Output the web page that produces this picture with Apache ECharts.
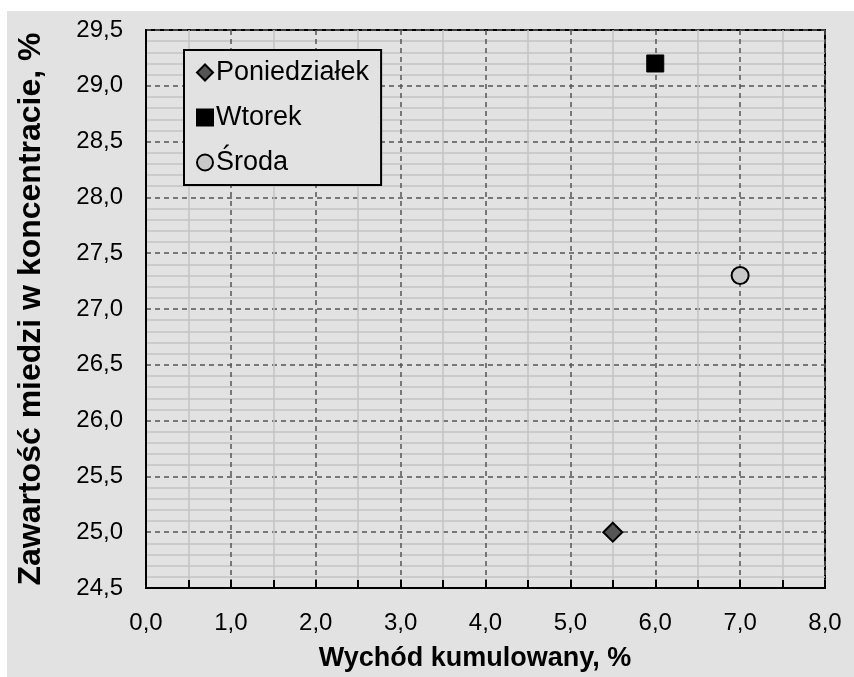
<!DOCTYPE html>
<html>
<head>
<meta charset="utf-8">
<script src="https://cdn.jsdelivr.net/npm/echarts@6/dist/echarts.min.js"></script>
<style>
  html, body { margin: 0; padding: 0; background: #ffffff; }
  #chart { position: absolute; left: 7px; top: 11px; width: 847px; height: 666px; }
</style>
</head>
<body>
<div id="chart"></div>
<script>
// Data
const seriesNames = ['Poniedziałek', 'Wtorek', 'Środa'];
const xValues = [5.5, 6.0, 7.0];     // Wychód kumulowany, %
const yValues = [25.0, 29.2, 27.3];  // Zawartość miedzi w koncentracie, %
const xAxisRange = [0, 8];
const yAxisRange = [24.5, 29.5];

const symbols = ['diamond', 'rect', 'circle'];
const fills = ['#555555', '#000000', '#c8c8c8'];
const sizes = [19, 17, 17];

const fmt = v => v.toFixed(1).replace('.', ',');
const FONT = 'Liberation Sans, Arial, sans-serif';
const BG = '#e2e2e2';

const chart = echarts.init(document.getElementById('chart'), null, { renderer: 'canvas' });

const series = seriesNames.map((name, i) => ({
  name: name,
  type: 'scatter',
  symbol: symbols[i],
  symbolSize: sizes[i],
  data: [[xValues[i], yValues[i]]],
  itemStyle: { color: fills[i], borderColor: '#000', borderWidth: i === 1 ? 1 : 2, opacity: 1 },
  emphasis: { disabled: true },
  z: 10
}));

chart.setOption({
  backgroundColor: BG,
  animation: false,
  textStyle: { fontFamily: FONT },
  grid: {
    left: 139, top: 19, width: 679, height: 566,
    show: true, backgroundColor: BG, borderColor: '#000', borderWidth: 2
  },
  legend: {
    orient: 'vertical',
    left: 177, top: 39,
    padding: [9, 12, 9, 12],
    itemGap: 18,
    itemWidth: 16, itemHeight: 16,
    backgroundColor: BG,
    borderColor: '#000', borderWidth: 2,
    textStyle: { fontSize: 27, color: '#000', fontFamily: FONT, padding: [0, 0, 0, -2] },
    data: seriesNames
  },
  xAxis: {
    type: 'value',
    min: xAxisRange[0], max: xAxisRange[1], interval: 1,
    name: 'Wychód kumulowany, %',
    nameLocation: 'middle',
    nameGap: 57,
    nameTextStyle: { fontSize: 27, fontWeight: 'bold', color: '#000', fontFamily: FONT, padding: [0, 21, 0, 0] },
    axisLine: { show: true, lineStyle: { color: '#000', width: 2 } },
    axisTick: { show: true, inside: true, length: 8, lineStyle: { color: '#000', width: 2 } },
    minorTick: { show: true, splitNumber: 2, length: 8, lineStyle: { color: '#000', width: 2 } },
    axisLabel: { formatter: fmt, fontSize: 24, color: '#000', margin: 23, fontFamily: FONT },
    splitLine: { show: true, lineStyle: { color: '#555', width: 1.5, type: [5, 4] } },
    minorSplitLine: { show: true, lineStyle: { color: '#c4c4c4', width: 1.5 } }
  },
  yAxis: {
    type: 'value',
    min: yAxisRange[0], max: yAxisRange[1], interval: 0.5,
    name: 'Zawartość miedzi w koncentracie, %',
    nameLocation: 'middle',
    nameGap: 99,
    nameTextStyle: { fontSize: 32, fontWeight: 'bold', color: '#000', fontFamily: FONT },
    axisLine: { show: true, lineStyle: { color: '#000', width: 2 } },
    axisTick: { show: false },
    minorTick: { show: false, splitNumber: 5 },
    axisLabel: { formatter: fmt, fontSize: 24, color: '#000', margin: 23, fontFamily: FONT },
    splitLine: { show: true, lineStyle: { color: '#555', width: 1.5, type: [5, 4] } },
    minorSplitLine: { show: true, lineStyle: { color: '#c4c4c4', width: 1.5 } }
  },
  series: series
});
</script>
</body>
</html>
